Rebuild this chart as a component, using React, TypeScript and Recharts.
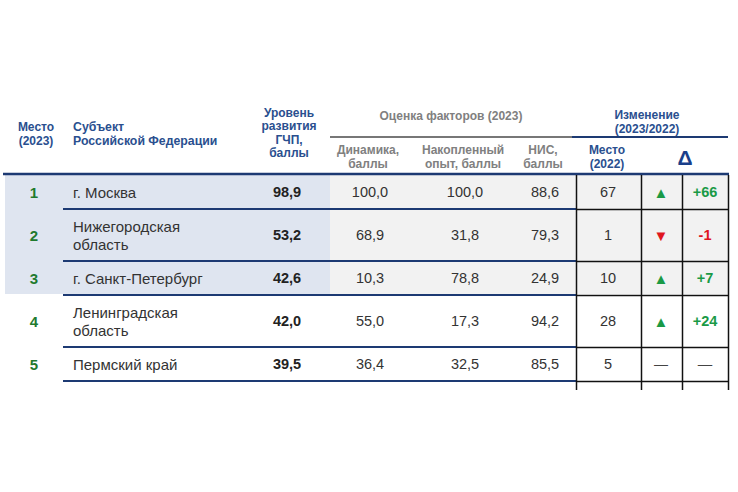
import { ComposedChart, XAxis, YAxis, Scatter, ReferenceArea, ReferenceLine } from "recharts"

// table values
const places2023 = [1, 2, 3, 4, 5]
const regions = [
  "г. Москва",
  "Нижегородская\nобласть",
  "г. Санкт-Петербург",
  "Ленинградская\nобласть",
  "Пермский край",
]
const pppLevel = [98.9, 53.2, 42.6, 42.0, 39.5]
const dynamics = [100.0, 68.9, 10.3, 55.0, 36.4]
const experience = [100.0, 31.8, 78.8, 17.3, 32.5]
const nis = [88.6, 79.3, 24.9, 94.2, 85.5]
const places2022 = [67, 1, 10, 28, 5]

const W = 738
const H = 492
const FONT = "'Liberation Sans', Arial, sans-serif"
const NAVY = "#1d3a73"
const BLUE = "#2a4f8f"
const GRAY = "#808080"
const TEXT = "#333333"
const GREEN = "#1a9a46"
const RANK_GREEN = "#1f7a2e"
const RED = "#e0161f"

// column layout
const COL = { rank: 34, name: 73, ppp: 287, dyn: 370, exp: 465, nis: 545, p22: 608, arrow: 661, delta: 705 }
const BODY_TOP = 175
const SHADED_ROWS = 3

const fmt = (v: number) => v.toFixed(1).replace(".", ",")

let cursor = BODY_TOP
const rows = regions.map((name, i) => {
  const lines = name.split("\n")
  const h = lines.length > 1 ? 52 : 34
  const top = cursor
  cursor += h
  const change = places2022[i] - places2023[i]
  return { i, lines, top, bottom: top + h, center: top + h / 2, change }
})
const BODY_BOTTOM = cursor

type Style = { fill: string; size: number; weight?: number; anchor?: "start" | "middle" | "end"; lh?: number }

const textShape = (st: Style) => (props: any) => {
  const { cx, cy, payload } = props
  const lines: string[] = payload.lines ?? [String(payload.text)]
  const s: Style = { ...st, ...(payload.style || {}) }
  const lh = s.lh ?? 17
  const y0 = cy - ((lines.length - 1) * lh) / 2
  return (
    <text
      x={cx}
      y={y0}
      fill={s.fill}
      fontSize={s.size}
      fontWeight={s.weight ?? 400}
      fontFamily={FONT}
      textAnchor={s.anchor ?? "middle"}
      dominantBaseline="central"
    >
      {lines.map((l, k) => (
        <tspan key={k} x={cx} y={y0 + k * lh}>
          {l}
        </tspan>
      ))}
    </text>
  )
}

const headers = [
  { x: 36, y: 134, lines: ["Место", "(2023)"], style: { fill: BLUE, size: 12, weight: 700, lh: 14 } },
  { x: 73, y: 134, lines: ["Субъект", "Российской Федерации"], style: { fill: BLUE, size: 12.3, weight: 700, lh: 14, anchor: "start" } },
  { x: 289, y: 133, lines: ["Уровень", "развития", "ГЧП,", "баллы"], style: { fill: BLUE, size: 12, weight: 700, lh: 13.5 } },
  { x: 451, y: 116, lines: ["Оценка факторов (2023)"], style: { fill: GRAY, size: 12, weight: 700 } },
  { x: 368, y: 157, lines: ["Динамика,", "баллы"], style: { fill: GRAY, size: 12, weight: 700, lh: 13.5 } },
  { x: 463, y: 157, lines: ["Накопленный", "опыт, баллы"], style: { fill: GRAY, size: 12, weight: 700, lh: 13.5 } },
  { x: 543, y: 157, lines: ["НИС,", "баллы"], style: { fill: GRAY, size: 12, weight: 700, lh: 13.5 } },
  { x: 647, y: 122, lines: ["Изменение", "(2023/2022)"], style: { fill: BLUE, size: 12, weight: 700, lh: 14 } },
  { x: 607, y: 157, lines: ["Место", "(2022)"], style: { fill: BLUE, size: 12, weight: 700, lh: 13.5 } },
  { x: 685, y: 157, lines: ["Δ"], style: { fill: "#1a3f8a", size: 21, weight: 700 } },
]

const col = (x: number, get: (r: (typeof rows)[number]) => any) =>
  rows.map((r) => ({ x, y: r.center, ...get(r) }))

const rankData = col(COL.rank, (r) => ({ text: places2023[r.i] }))
const nameData = col(COL.name, (r) => ({ lines: r.lines }))
const pppData = col(COL.ppp, (r) => ({ text: fmt(pppLevel[r.i]) }))
const dynData = col(COL.dyn, (r) => ({ text: fmt(dynamics[r.i]) }))
const expData = col(COL.exp, (r) => ({ text: fmt(experience[r.i]) }))
const nisData = col(COL.nis, (r) => ({ text: fmt(nis[r.i]) }))
const p22Data = col(COL.p22, (r) => ({ text: places2022[r.i] }))
const arrowData = col(COL.arrow, (r) =>
  r.change > 0
    ? { text: "▲", style: { fill: GREEN } }
    : r.change < 0
    ? { text: "▼", style: { fill: RED } }
    : { text: "—", style: { fill: "#444", size: 14 } }
)
const deltaData = col(COL.delta, (r) =>
  r.change > 0
    ? { text: `+${r.change}`, style: { fill: GREEN } }
    : r.change < 0
    ? { text: `${r.change}`, style: { fill: RED } }
    : { text: "—", style: { fill: "#444", weight: 400 } }
)

const vLines = [576.5, 641.5, 682.5, 728.5]

export default function App() {
  const shadedBottom = rows[SHADED_ROWS - 1].bottom - 1
  return (
    <div style={{ width: W, height: H, background: "#fff" }}>
      <style>{"body{margin:0}"}</style>
      <ComposedChart width={W} height={H} margin={{ top: 0, right: 0, bottom: 0, left: 0 }}>
        <XAxis type="number" dataKey="x" domain={[0, W]} hide allowDataOverflow />
        <YAxis type="number" dataKey="y" domain={[0, H]} reversed hide allowDataOverflow />

        <ReferenceArea x1={5} x2={330} y1={BODY_TOP} y2={shadedBottom} fill="#dfe5f0" fillOpacity={1} stroke="none" />
        <ReferenceArea x1={330} x2={728} y1={BODY_TOP} y2={shadedBottom} fill="#f2f2f2" fillOpacity={1} stroke="none" />

        <ReferenceLine segment={[{ x: 330, y: 137 }, { x: 572, y: 137 }]} stroke="#4a4a4a" strokeWidth={1.5} />
        <ReferenceLine segment={[{ x: 572, y: 137 }, { x: 728, y: 137 }]} stroke={NAVY} strokeWidth={2} />
        <ReferenceLine segment={[{ x: 3, y: 174 }, { x: 729, y: 174 }]} stroke={NAVY} strokeWidth={2.5} />

        {rows.map((r) => (
          <ReferenceLine key={`n${r.i}`} segment={[{ x: 63, y: r.bottom }, { x: 576, y: r.bottom }]} stroke={NAVY} strokeWidth={2} />
        ))}
        {rows.map((r) => (
          <ReferenceLine key={`b${r.i}`} segment={[{ x: 576, y: r.bottom + 0.5 }, { x: 729, y: r.bottom + 0.5 }]} stroke="#111" strokeWidth={1.5} />
        ))}
        {vLines.map((x) => (
          <ReferenceLine key={`v${x}`} segment={[{ x, y: BODY_TOP }, { x, y: BODY_BOTTOM + 9 }]} stroke="#111" strokeWidth={1.5} strokeOpacity={1} />
        ))}

        <Scatter data={headers} isAnimationActive={false} shape={textShape({ fill: BLUE, size: 12 })} />
        <Scatter data={rankData} isAnimationActive={false} shape={textShape({ fill: RANK_GREEN, size: 15, weight: 700 })} />
        <Scatter data={nameData} isAnimationActive={false} shape={textShape({ fill: TEXT, size: 15, anchor: "start", lh: 18 })} />
        <Scatter data={pppData} isAnimationActive={false} shape={textShape({ fill: "#222", size: 14.5, weight: 700 })} />
        <Scatter data={dynData} isAnimationActive={false} shape={textShape({ fill: TEXT, size: 14.5 })} />
        <Scatter data={expData} isAnimationActive={false} shape={textShape({ fill: TEXT, size: 14.5 })} />
        <Scatter data={nisData} isAnimationActive={false} shape={textShape({ fill: TEXT, size: 14.5 })} />
        <Scatter data={p22Data} isAnimationActive={false} shape={textShape({ fill: TEXT, size: 14.5 })} />
        <Scatter data={arrowData} isAnimationActive={false} shape={textShape({ fill: GREEN, size: 15 })} />
        <Scatter data={deltaData} isAnimationActive={false} shape={textShape({ fill: GREEN, size: 14.5, weight: 700 })} />
      </ComposedChart>
    </div>
  )
}
